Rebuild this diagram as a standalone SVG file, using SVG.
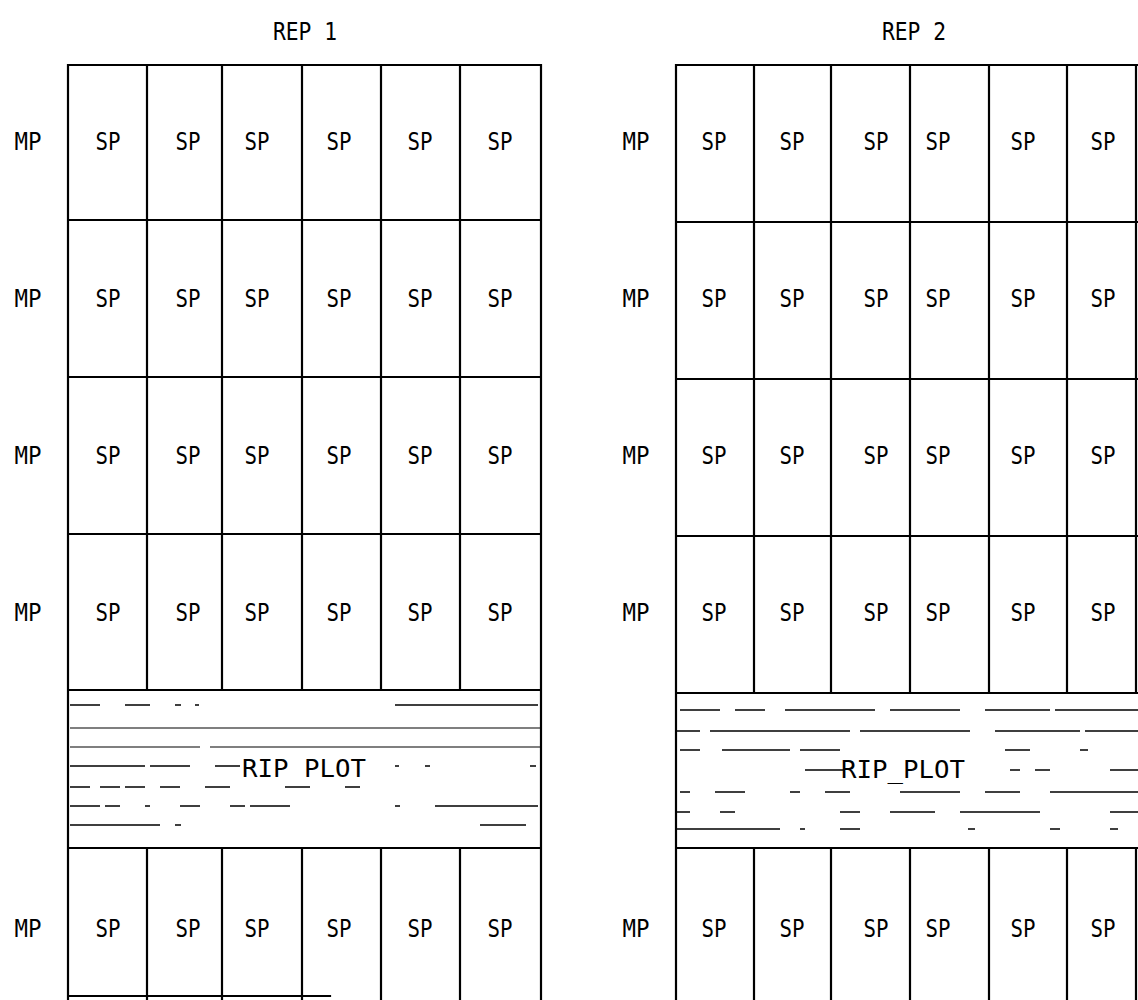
<svg xmlns="http://www.w3.org/2000/svg" width="1138" height="1000" viewBox="0 0 1138 1000">
<style>
.g{fill:none;stroke:#000;stroke-width:2.2;stroke-linecap:square}
.d{fill:none;stroke:#000;stroke-width:1.4}
.f{fill:none;stroke:#000;stroke-width:1.2}
text{font-family:"DejaVu Sans Mono","Liberation Mono",monospace;font-size:25px;fill:#000;text-anchor:middle}
</style>
<rect width="1138" height="1000" fill="#fff"/>
<g id="titles">
<text x="305" y="40" textLength="64" lengthAdjust="spacingAndGlyphs">REP 1</text>
<text x="914" y="40" textLength="64" lengthAdjust="spacingAndGlyphs">REP 2</text>
</g>
<g id="rep1">
<path class="g" d="M68,65H541M68,220H541M68,377H541M68,534H541M68,690H541M68,848H541M68,996H330
M68,65V1000M541,65V1000
M147,65V690M222,65V690M302,65V690M381,65V690M460,65V690
M147,848V1000M222,848V1000M302,848V1000M381,848V1000M460,848V1000"/>
<g id="rip1">
<path class="f" d="M70,728H540M70,747H200M210,747H540"/>
<path class="d" d="M70,705H100M125,705H150M175,705H181M195,705H199M395,705H538
M70,766H145M150,766H190M215,766H240M395,766H399M425,766H430M530,766H536
M70,787H90M100,787H120M125,787H145M160,787H180M205,787H230M285,787H310M345,787H360
M70,806H100M105,806H120M145,806H150M180,806H200M230,806H245M250,806H290M395,806H400M435,806H538
M70,825H160M175,825H181M480,825H526"/>
<text x="304" y="777" textLength="124" lengthAdjust="spacingAndGlyphs">RIP PLOT</text>
</g>
<g id="mp1">
<text x="28" y="150" textLength="27" lengthAdjust="spacingAndGlyphs">MP</text><text x="28" y="307" textLength="27" lengthAdjust="spacingAndGlyphs">MP</text><text x="28" y="464" textLength="27" lengthAdjust="spacingAndGlyphs">MP</text><text x="28" y="621" textLength="27" lengthAdjust="spacingAndGlyphs">MP</text><text x="28" y="937" textLength="27" lengthAdjust="spacingAndGlyphs">MP</text>
</g>
<g id="sp1">
<text x="108" y="150" textLength="25" lengthAdjust="spacingAndGlyphs">SP</text><text x="188" y="150" textLength="25" lengthAdjust="spacingAndGlyphs">SP</text><text x="257" y="150" textLength="25" lengthAdjust="spacingAndGlyphs">SP</text><text x="339" y="150" textLength="25" lengthAdjust="spacingAndGlyphs">SP</text><text x="420" y="150" textLength="25" lengthAdjust="spacingAndGlyphs">SP</text><text x="500" y="150" textLength="25" lengthAdjust="spacingAndGlyphs">SP</text>
<text x="108" y="307" textLength="25" lengthAdjust="spacingAndGlyphs">SP</text><text x="188" y="307" textLength="25" lengthAdjust="spacingAndGlyphs">SP</text><text x="257" y="307" textLength="25" lengthAdjust="spacingAndGlyphs">SP</text><text x="339" y="307" textLength="25" lengthAdjust="spacingAndGlyphs">SP</text><text x="420" y="307" textLength="25" lengthAdjust="spacingAndGlyphs">SP</text><text x="500" y="307" textLength="25" lengthAdjust="spacingAndGlyphs">SP</text>
<text x="108" y="464" textLength="25" lengthAdjust="spacingAndGlyphs">SP</text><text x="188" y="464" textLength="25" lengthAdjust="spacingAndGlyphs">SP</text><text x="257" y="464" textLength="25" lengthAdjust="spacingAndGlyphs">SP</text><text x="339" y="464" textLength="25" lengthAdjust="spacingAndGlyphs">SP</text><text x="420" y="464" textLength="25" lengthAdjust="spacingAndGlyphs">SP</text><text x="500" y="464" textLength="25" lengthAdjust="spacingAndGlyphs">SP</text>
<text x="108" y="621" textLength="25" lengthAdjust="spacingAndGlyphs">SP</text><text x="188" y="621" textLength="25" lengthAdjust="spacingAndGlyphs">SP</text><text x="257" y="621" textLength="25" lengthAdjust="spacingAndGlyphs">SP</text><text x="339" y="621" textLength="25" lengthAdjust="spacingAndGlyphs">SP</text><text x="420" y="621" textLength="25" lengthAdjust="spacingAndGlyphs">SP</text><text x="500" y="621" textLength="25" lengthAdjust="spacingAndGlyphs">SP</text>
<text x="108" y="937" textLength="25" lengthAdjust="spacingAndGlyphs">SP</text><text x="188" y="937" textLength="25" lengthAdjust="spacingAndGlyphs">SP</text><text x="257" y="937" textLength="25" lengthAdjust="spacingAndGlyphs">SP</text><text x="339" y="937" textLength="25" lengthAdjust="spacingAndGlyphs">SP</text><text x="420" y="937" textLength="25" lengthAdjust="spacingAndGlyphs">SP</text><text x="500" y="937" textLength="25" lengthAdjust="spacingAndGlyphs">SP</text>
</g>
</g>
<g id="rep2">
<path class="g" d="M676,65H1138M676,222H1138M676,379H1138M676,536H1138M676,693H1138M676,848H1138
M676,65V1000M1136,65V693M1136,848V1000
M754,65V693M831,65V693M910,65V693M989,65V693M1067,65V693
M754,848V1000M831,848V1000M910,848V1000M989,848V1000M1067,848V1000"/>
<g id="rip2">
<path class="d" d="M680,710H720M735,710H765M785,710H875M890,710H960M985,710H1050M1055,710H1138
M676,731H700M710,731H850M860,731H970M995,731H1080M1085,731H1138
M680,750H700M722,750H790M800,750H840M1005,750H1030M1080,750H1088
M805,770H845M1010,770H1020M1035,770H1050M1110,770H1138
M680,792H690M715,792H745M790,792H800M825,792H850M900,792H960M985,792H1020M1050,792H1138
M676,812H690M720,812H735M840,812H860M890,812H935M960,812H1040M1110,812H1138
M676,829H780M800,829H805M840,829H860M968,829H975M1050,829H1060M1110,829H1118"/>
<text x="903" y="778" textLength="124" lengthAdjust="spacingAndGlyphs">RIP_PLOT</text>
</g>
<g id="mp2">
<text x="636" y="150" textLength="27" lengthAdjust="spacingAndGlyphs">MP</text><text x="636" y="307" textLength="27" lengthAdjust="spacingAndGlyphs">MP</text><text x="636" y="464" textLength="27" lengthAdjust="spacingAndGlyphs">MP</text><text x="636" y="621" textLength="27" lengthAdjust="spacingAndGlyphs">MP</text><text x="636" y="937" textLength="27" lengthAdjust="spacingAndGlyphs">MP</text>
</g>
<g id="sp2">
<text x="714" y="150" textLength="25" lengthAdjust="spacingAndGlyphs">SP</text><text x="792" y="150" textLength="25" lengthAdjust="spacingAndGlyphs">SP</text><text x="876" y="150" textLength="25" lengthAdjust="spacingAndGlyphs">SP</text><text x="938" y="150" textLength="25" lengthAdjust="spacingAndGlyphs">SP</text><text x="1023" y="150" textLength="25" lengthAdjust="spacingAndGlyphs">SP</text><text x="1103" y="150" textLength="25" lengthAdjust="spacingAndGlyphs">SP</text>
<text x="714" y="307" textLength="25" lengthAdjust="spacingAndGlyphs">SP</text><text x="792" y="307" textLength="25" lengthAdjust="spacingAndGlyphs">SP</text><text x="876" y="307" textLength="25" lengthAdjust="spacingAndGlyphs">SP</text><text x="938" y="307" textLength="25" lengthAdjust="spacingAndGlyphs">SP</text><text x="1023" y="307" textLength="25" lengthAdjust="spacingAndGlyphs">SP</text><text x="1103" y="307" textLength="25" lengthAdjust="spacingAndGlyphs">SP</text>
<text x="714" y="464" textLength="25" lengthAdjust="spacingAndGlyphs">SP</text><text x="792" y="464" textLength="25" lengthAdjust="spacingAndGlyphs">SP</text><text x="876" y="464" textLength="25" lengthAdjust="spacingAndGlyphs">SP</text><text x="938" y="464" textLength="25" lengthAdjust="spacingAndGlyphs">SP</text><text x="1023" y="464" textLength="25" lengthAdjust="spacingAndGlyphs">SP</text><text x="1103" y="464" textLength="25" lengthAdjust="spacingAndGlyphs">SP</text>
<text x="714" y="621" textLength="25" lengthAdjust="spacingAndGlyphs">SP</text><text x="792" y="621" textLength="25" lengthAdjust="spacingAndGlyphs">SP</text><text x="876" y="621" textLength="25" lengthAdjust="spacingAndGlyphs">SP</text><text x="938" y="621" textLength="25" lengthAdjust="spacingAndGlyphs">SP</text><text x="1023" y="621" textLength="25" lengthAdjust="spacingAndGlyphs">SP</text><text x="1103" y="621" textLength="25" lengthAdjust="spacingAndGlyphs">SP</text>
<text x="714" y="937" textLength="25" lengthAdjust="spacingAndGlyphs">SP</text><text x="792" y="937" textLength="25" lengthAdjust="spacingAndGlyphs">SP</text><text x="876" y="937" textLength="25" lengthAdjust="spacingAndGlyphs">SP</text><text x="938" y="937" textLength="25" lengthAdjust="spacingAndGlyphs">SP</text><text x="1023" y="937" textLength="25" lengthAdjust="spacingAndGlyphs">SP</text><text x="1103" y="937" textLength="25" lengthAdjust="spacingAndGlyphs">SP</text>
</g>
</g>
</svg>
